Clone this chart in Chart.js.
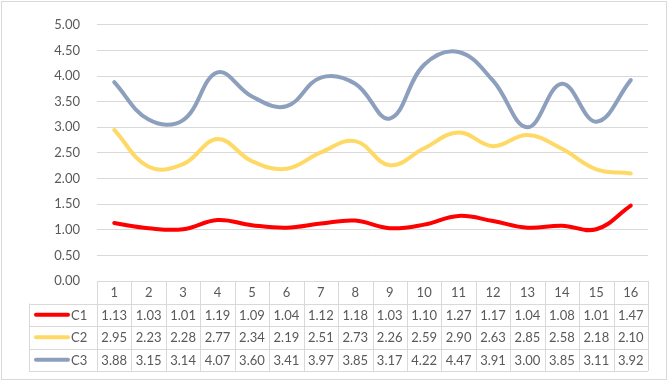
<!DOCTYPE html>
<html>
<head>
<meta charset="utf-8">
<script src="https://cdn.jsdelivr.net/npm/chart.js@4.4.0/dist/chart.umd.min.js"></script>
<style>
  body { margin: 0; background: #fff; }
  canvas { display: block; }
</style>
</head>
<body>
<canvas id="chart" width="669" height="383"></canvas>
<script>
// categories along the bottom (also the table header)
const categories = ["1", "2", "3", "4", "5", "6", "7", "8", "9", "10", "11", "12", "13", "14", "15", "16"];

// series
const seriesNames = ["C1", "C2", "C3"];
const c1Values = [1.13, 1.03, 1.01, 1.19, 1.09, 1.04, 1.12, 1.18, 1.03, 1.10, 1.27, 1.17, 1.04, 1.08, 1.01, 1.47];
const c2Values = [2.95, 2.23, 2.28, 2.77, 2.34, 2.19, 2.51, 2.73, 2.26, 2.59, 2.90, 2.63, 2.85, 2.58, 2.18, 2.10];
const c3Values = [3.88, 3.15, 3.14, 4.07, 3.60, 3.41, 3.97, 3.85, 3.17, 4.22, 4.47, 3.91, 3.00, 3.85, 3.11, 3.92];
const seriesColors = ["#ff0000", "#ffd966", "#8c9fbd"];

const FONT = "Lato, 'Noto Sans', sans-serif";
const TEXT_COLOR = "#595959";
const GRID_COLOR = "#d9d9d9";
const ROW_H = 22.5;
const LEGEND_LEFT = 29;

const allValues = [c1Values, c2Values, c3Values];

// data table drawn under the plot area, lined up with the x scale
const dataTable = {
  id: "dataTable",
  afterDraw(chart) {
    const ctx = chart.ctx;
    const xs = chart.scales.x;
    const area = chart.chartArea;
    const colW = (area.right - area.left) / categories.length;
    const top = area.bottom;
    const px = (v) => Math.round(v) + 0.5;

    ctx.save();
    ctx.strokeStyle = GRID_COLOR;
    ctx.lineWidth = 1;
    ctx.beginPath();
    // horizontal lines
    ctx.moveTo(area.left, px(top));
    ctx.lineTo(area.right, px(top));
    for (let k = 1; k <= 4; k++) {
      ctx.moveTo(LEGEND_LEFT, px(top + k * ROW_H));
      ctx.lineTo(area.right, px(top + k * ROW_H));
    }
    // vertical lines
    ctx.moveTo(px(LEGEND_LEFT), top + ROW_H);
    ctx.lineTo(px(LEGEND_LEFT), top + 4 * ROW_H);
    for (let j = 0; j <= categories.length; j++) {
      const x = px(area.left + j * colW);
      ctx.moveTo(x, top);
      ctx.lineTo(x, top + 4 * ROW_H);
    }
    ctx.stroke();

    ctx.font = "13px " + FONT;
    ctx.fillStyle = TEXT_COLOR;
    ctx.textBaseline = "middle";
    ctx.textAlign = "center";
    categories.forEach((c, i) => {
      ctx.fillText(c, xs.getPixelForValue(i), top + ROW_H / 2 + 1);
    });
    allValues.forEach((vals, r) => {
      const y = top + (r + 1.5) * ROW_H + 1;
      ctx.textAlign = "center";
      vals.forEach((v, i) => {
        ctx.fillText(v.toFixed(2), xs.getPixelForValue(i), y);
      });
      // legend key
      ctx.strokeStyle = seriesColors[r];
      ctx.lineWidth = 4;
      ctx.lineCap = "round";
      ctx.beginPath();
      ctx.moveTo(36, y - 1);
      ctx.lineTo(68, y - 1);
      ctx.stroke();
      ctx.textAlign = "left";
      ctx.fillText(seriesNames[r], 71, y);
    });

    // chart border
    ctx.strokeStyle = GRID_COLOR;
    ctx.lineWidth = 1;
    ctx.strokeRect(1.5, 1.5, 665, 378);
    ctx.restore();
  }
};

new Chart(document.getElementById("chart"), {
  type: "line",
  data: {
    labels: categories,
    datasets: seriesNames.map((name, i) => ({
      label: name,
      data: allValues[i],
      borderColor: seriesColors[i],
      backgroundColor: seriesColors[i],
    })),
  },
  options: {
    responsive: false,
    animation: false,
    layout: { padding: { top: 18, right: 21, bottom: 102, left: 0 } },
    plugins: {
      legend: { display: false },
      tooltip: { enabled: false },
    },
    elements: {
      point: { radius: 0 },
      line: { borderWidth: 4, tension: 0.4, borderCapStyle: "round" },
    },
    scales: {
      x: { display: false, offset: true },
      y: {
        min: 0,
        max: 5,
        ticks: {
          stepSize: 0.5,
          padding: 17,
          color: TEXT_COLOR,
          font: { family: FONT, size: 13 },
          callback: (v) => v.toFixed(2),
        },
        grid: { color: GRID_COLOR, drawTicks: false },
        border: { display: false },
        afterFit: (s) => { s.width = 97; },
      },
    },
  },
  plugins: [dataTable],
});
</script>
</body>
</html>
